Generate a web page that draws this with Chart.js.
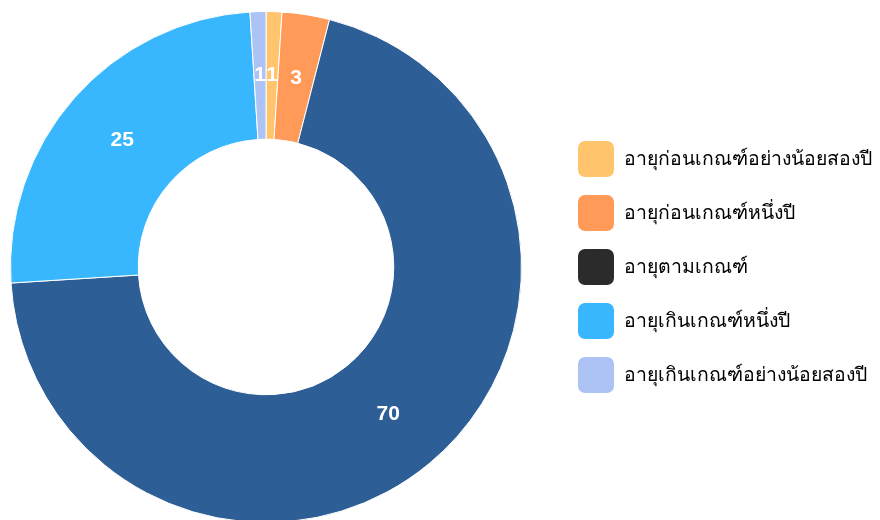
<!DOCTYPE html>
<html>
<head>
<meta charset="utf-8">
<script src="https://cdn.jsdelivr.net/npm/chart.js@4/dist/chart.umd.min.js"></script>
<style>
	html, body { margin: 0; padding: 0; background: #fff; overflow: hidden; }
	#wrap { width: 908px; height: 524px; margin-left: -28px; }
</style>
</head>
<body>
<div id="wrap"><canvas id="chart"></canvas></div>
<script>
const labels = [
	"อายุก่อนเกณฑ์อย่างน้อยสองปี",
	"อายุก่อนเกณฑ์หนึ่งปี",
	"อายุตามเกณฑ์",
	"อายุเกินเกณฑ์หนึ่งปี",
	"อายุเกินเกณฑ์อย่างน้อยสองปี",
];
const values = [1, 3, 70, 25, 1];

const sliceColors = ["#ffc46c", "#ff9a58", "#2e5e96", "#38b7ff", "#aec3f5"];
const legendColors = ["#ffc46c", "#ff9a58", "#2b2b2b", "#38b7ff", "#aec3f5"];

// draws each value in the middle of its slice
const valueLabels = {
	id: "valueLabels",
	afterDatasetsDraw(chart) {
		const ctx = chart.ctx;
		const meta = chart.getDatasetMeta(0);
		ctx.save();
		ctx.fillStyle = "#fff";
		ctx.font = "bold 21px 'Liberation Sans', Arial, sans-serif";
		ctx.textAlign = "center";
		ctx.textBaseline = "middle";
		meta.data.forEach((arc, i) => {
			const pos = arc.tooltipPosition();
			ctx.fillText(String(values[i]), pos.x, pos.y);
		});
		ctx.restore();
	},
};

const ctx = document.querySelector("#chart").getContext("2d");
const myChart = new Chart(ctx, {
	type: "doughnut",
	data: {
		labels: labels,
		datasets: [
			{
				data: values,
				backgroundColor: sliceColors,
				borderColor: "#fff",
				borderWidth: 1,
			},
		],
	},
	options: {
		responsive: true,
		maintainAspectRatio: false,
		animation: false,
		cutout: "50%",
		layout: { padding: { top: 11, bottom: 1, left: 0, right: 0 } },
		plugins: {
			tooltip: { enabled: false },
			legend: {
				position: "right",
				maxWidth: 320,
				labels: {
					boxWidth: 36,
					boxHeight: 36,
					padding: 18,
					color: "#4a4a4a",
					font: { size: 19.4, family: "'Noto Sans', sans-serif" },
					generateLabels: chart =>
						labels.map((text, i) => ({
							text: text,
							fillStyle: legendColors[i],
							strokeStyle: legendColors[i],
							lineWidth: 0,
							borderRadius: 7,
							hidden: false,
							index: i,
						})),
				},
			},
		},
	},
	plugins: [valueLabels],
});
</script>
</body>
</html>
